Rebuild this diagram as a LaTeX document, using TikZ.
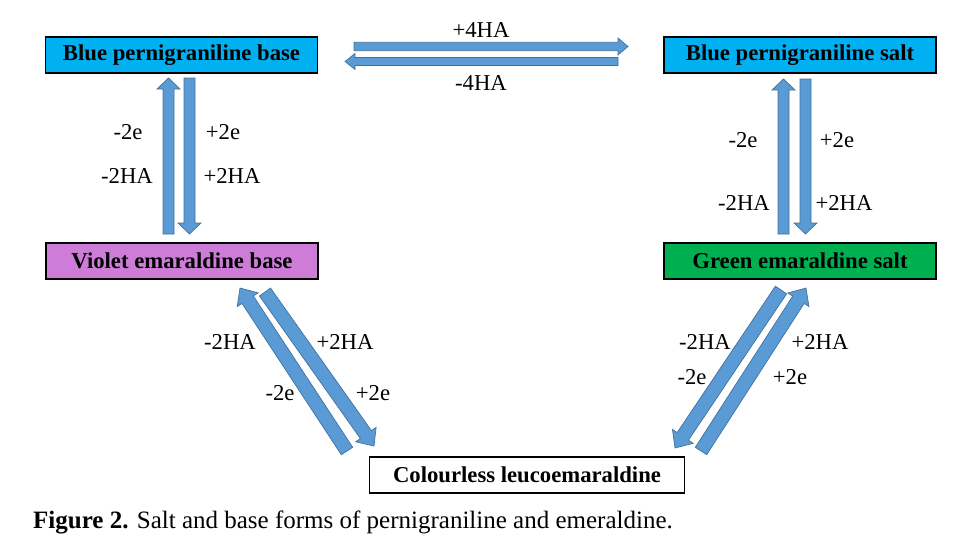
\documentclass[tikz,border=0pt]{standalone}
\usepackage{fontspec}
\setmainfont{Liberation Serif}
\usetikzlibrary{calc}
\definecolor{arrowfill}{HTML}{5B9BD5}
\definecolor{arrowline}{HTML}{41719C}
\definecolor{boxblue}{HTML}{00B0F0}
\definecolor{boxviolet}{RGB}{205,125,215}
\definecolor{boxgreen}{HTML}{00B050}
\tikzset{
  fat/.style={fill=arrowfill, draw=arrowline, line width=0.7pt, line join=miter},
  statebox/.style={draw=black, line width=1.1pt, minimum width=272pt, minimum height=36pt,
    inner sep=0pt, font=\fontsize{22.7}{27}\selectfont\bfseries},
  lbl/.style={font=\fontsize{22.7}{27}\selectfont, inner sep=0pt}
}
% #1 start, #2 tip, #3 shaft half width, #4 head half width, #5 head length
\newcommand\fatarrow[5]{%
  \coordinate (fa-b) at ($(#2)!#5!(#1)$);
  \filldraw[fat] ($(#1)!#3!90:(#2)$) -- ($(fa-b)!#3!-90:(#1)$) -- ($(fa-b)!#4!-90:(#1)$)
    -- (#2) -- ($(fa-b)!#4!90:(#1)$) -- ($(fa-b)!#3!90:(#1)$) -- ($(#1)!#3!-90:(#2)$) -- cycle;}
\begin{document}
\begin{tikzpicture}[x=1pt,y=-1pt]
\useasboundingbox (0,0) rectangle (958,544);
% boxes
\node[statebox, fill=boxblue] (bpb) at (181.5,55) {Blue pernigraniline base};
\node[statebox, fill=boxblue] (bps) at (800,55) {Blue pernigraniline salt};
\node[statebox, fill=boxviolet] (veb) at (182,261) {Violet emaraldine base};
\node[statebox, fill=boxgreen] (ges) at (800,261) {Green emaraldine salt};
\node[statebox, fill=white, minimum width=315pt] (cl) at (527,475) {Colourless leucoemaraldine};
% arrow endpoints
\coordinate (h1s) at (354,46.5);  \coordinate (h1e) at (628,46.5);
\coordinate (h2s) at (618,61.5);  \coordinate (h2e) at (345,61.5);
\coordinate (l1s) at (168.5,234); \coordinate (l1e) at (168.5,78);
\coordinate (l2s) at (189.5,78);  \coordinate (l2e) at (189.5,234);
\coordinate (r1s) at (783.5,234); \coordinate (r1e) at (783.5,79);
\coordinate (r2s) at (805.5,79);  \coordinate (r2e) at (805.5,234);
\coordinate (d1s) at (347,451);   \coordinate (d1e) at (240,288);
\coordinate (d2s) at (265,292);   \coordinate (d2e) at (374,446);
\coordinate (e1s) at (701,451);   \coordinate (e1e) at (806,288);
\coordinate (e2s) at (781,290);   \coordinate (e2e) at (675,448);
% arrows
\fatarrow{h1s}{h1e}{4.2pt}{8.5pt}{10pt}
\fatarrow{h2s}{h2e}{4pt}{8pt}{10pt}
\fatarrow{l1s}{l1e}{5.5pt}{11.5pt}{11pt}
\fatarrow{l2s}{l2e}{5.5pt}{11.5pt}{11pt}
\fatarrow{r1s}{r1e}{5.5pt}{11.5pt}{11pt}
\fatarrow{r2s}{r2e}{5.5pt}{11.5pt}{11pt}
\fatarrow{d1s}{d1e}{6.8pt}{12.5pt}{14pt}
\fatarrow{d2s}{d2e}{6.8pt}{12.5pt}{14pt}
\fatarrow{e1s}{e1e}{6.8pt}{12.5pt}{14pt}
\fatarrow{e2s}{e2e}{6.8pt}{12.5pt}{14pt}
% labels
\node[lbl] (t1) at (481,30) {+4HA};
\node[lbl] (t2) at (481,83) {-4HA};
\node[lbl] (la) at (128,132) {-2e};
\node[lbl] (lb) at (223,132) {+2e};
\node[lbl] (lc) at (127,176) {-2HA};
\node[lbl] (ld) at (232,176) {+2HA};
\node[lbl] (ra) at (743,140) {-2e};
\node[lbl] (rb) at (837,140) {+2e};
\node[lbl] (rc) at (744,203) {-2HA};
\node[lbl] (rd) at (844,203) {+2HA};
\node[lbl] (da) at (230,342) {-2HA};
\node[lbl] (db) at (345,342) {+2HA};
\node[lbl] (dc) at (280,393) {-2e};
\node[lbl] (dd) at (373,393) {+2e};
\node[lbl] (ea) at (705,342) {-2HA};
\node[lbl] (eb) at (820,342) {+2HA};
\node[lbl] (ec) at (692,377) {-2e};
\node[lbl] (ed) at (790,377) {+2e};
% caption
\node[lbl, font=\fontsize{25}{30}\selectfont, anchor=base west] (cap) at (33,528) {\textbf{Figure 2.} Salt and base forms of pernigraniline and emeraldine.};
\end{tikzpicture}
\end{document}
